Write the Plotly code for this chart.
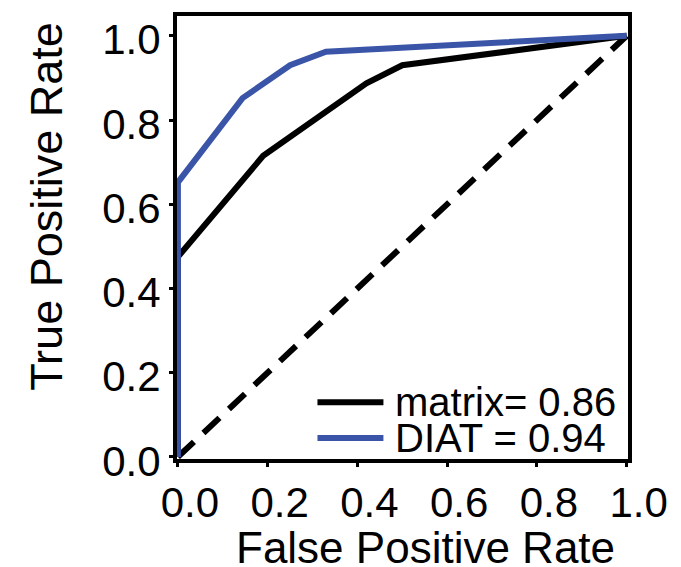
import plotly.graph_objects as go

# Data
matrix_fpr = [0.0, 0.0, 0.19, 0.42, 0.50, 1.0]
matrix_tpr = [0.0, 0.475, 0.715, 0.887, 0.93, 1.0]
diat_fpr = [0.0, 0.0, 0.144, 0.25, 0.33, 1.0]
diat_tpr = [0.0, 0.652, 0.852, 0.93, 0.962, 1.0]
chance = [0.0, 1.0]
tick_vals = [0.0, 0.2, 0.4, 0.6, 0.8, 1.0]
tick_text = ["0.0", "0.2", "0.4", "0.6", "0.8", "1.0"]
legend_labels = ["matrix= 0.86", "DIAT = 0.94"]

BLACK = "#000000"
BLUE = "#3a55a8"
FONT = "Arial, Liberation Sans, sans-serif"

fig = go.Figure()
fig.add_trace(go.Scatter(x=chance, y=chance, mode="lines", showlegend=False,
                         line=dict(color=BLACK, width=6, dash="22px,13px")))
fig.add_trace(go.Scatter(x=matrix_fpr, y=matrix_tpr, mode="lines", name=legend_labels[0],
                         showlegend=False, line=dict(color=BLACK, width=6)))
fig.add_trace(go.Scatter(x=diat_fpr, y=diat_tpr, mode="lines", name=legend_labels[1],
                         showlegend=False, line=dict(color=BLUE, width=6)))

# manual legend (long line samples)
leg_colors = [BLACK, BLUE]
leg_y = [0.130, 0.045]
for lab, col, yy in zip(legend_labels, leg_colors, leg_y):
    fig.add_shape(type="line", xref="x", yref="y", x0=0.311, x1=0.458, y0=yy, y1=yy,
                  line=dict(color=col, width=6))
    fig.add_annotation(x=0.48, y=yy, xref="x", yref="y", text=lab, showarrow=False,
                       xanchor="left", yanchor="middle",
                       font=dict(family=FONT, size=40, color=BLACK))

axis_common = dict(
    showline=True, linecolor=BLACK, linewidth=4, mirror=True,
    ticks="outside", ticklen=4, tickwidth=3, tickcolor=BLACK,
    tickvals=tick_vals, ticktext=tick_text, showgrid=False, zeroline=False,
    tickfont=dict(family=FONT, size=42, color=BLACK), layer="below traces",
)
fig.update_xaxes(range=[-0.002, 1.003], ticklabelshift=12, **axis_common)
fig.update_yaxes(range=[-0.005, 1.047], ticklabelshift=4, **axis_common)

fig.add_annotation(text="False Positive Rate", xref="paper", yref="paper",
                   x=0.55, y=-0.2, xanchor="center", yanchor="middle", showarrow=False,
                   font=dict(family=FONT, size=44, color=BLACK))
fig.add_annotation(text="True Positive Rate", xref="paper", yref="paper",
                   x=-0.29, y=0.57, xanchor="center", yanchor="middle", showarrow=False,
                   textangle=-90, font=dict(family=FONT, size=45, color=BLACK))

fig.update_layout(
    width=681, height=567,
    margin=dict(l=177, r=53, t=12, b=108),
    plot_bgcolor="white", paper_bgcolor="white",
    showlegend=False,
)
fig.write_html("out.html")
